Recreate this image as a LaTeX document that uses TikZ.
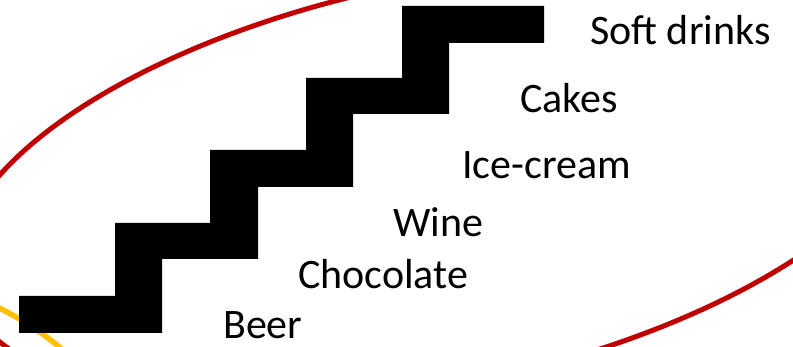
\documentclass[tikz,border=0pt]{standalone}
\usepackage{fontspec}
\setmainfont{Carlito}
\definecolor{ellred}{HTML}{C00000}
\definecolor{arcorange}{HTML}{FFC000}
\tikzset{
  lbl/.style={anchor=base west, inner sep=0pt, text depth=0pt, font=\fontsize{42}{50}\selectfont},
  stair/.style={fill=black, draw=none}
}
\begin{document}
\begin{tikzpicture}[x=1pt,y=1pt]
\useasboundingbox (0,0) rectangle (793,347);
\clip (0,0) rectangle (793,347);
\fill[white] (0,0) rectangle (793,347);
% orange arc (behind staircase)
\draw[arcorange, line width=5.5pt] (-138.6,-239.9) circle [radius=311];
% red ellipse
\draw[ellred, line width=5pt, shift={(437,163)}, rotate=11.7] (0,0) ellipse [x radius=487, y radius=201.5];
% staircase
\path[stair] (19,51) -- (115,51) -- (115,124) -- (210,124) -- (210,197) -- (306,197)
  -- (306,269) -- (402,269) -- (402,341) -- (544,341) -- (544,304) -- (449,304)
  -- (449,233) -- (353,233) -- (353,160) -- (258,160) -- (258,88) -- (162,88)
  -- (162,14) -- (19,14) -- cycle;
% labels
\node[lbl] (soft) at (590,302) {Soft drinks};
\node[lbl] (cakes) at (520,234) {Cakes};
\node[lbl] (ice) at (462,168) {Ice-cream};
\node[lbl] (wine) at (393,110) {Wine};
\node[lbl] (choc) at (298,58) {Chocolate};
\node[lbl] (beer) at (223,8) {Beer};
\end{tikzpicture}
\end{document}
